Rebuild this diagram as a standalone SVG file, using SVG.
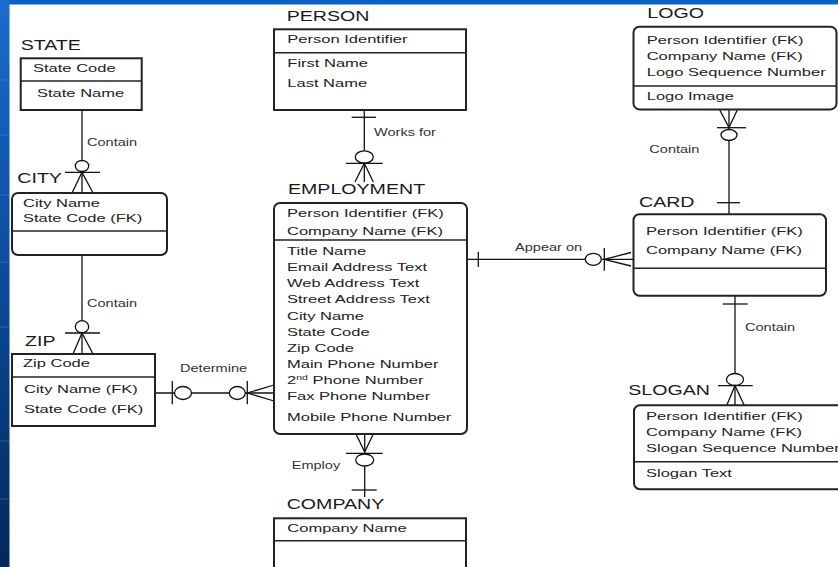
<svg xmlns="http://www.w3.org/2000/svg" width="838" height="567" viewBox="0 0 838 567">
  <defs>
    <linearGradient id="sideBand" x1="0" y1="0" x2="0" y2="1">
      <stop offset="0" stop-color="#1a6ccc"/>
      <stop offset="0.5" stop-color="#0d4a98"/>
      <stop offset="1" stop-color="#03285a"/>
    </linearGradient>
    <style>
      text { font-family: "Liberation Sans", Arial, sans-serif; font-size: 11.8px; fill: #222; }
      text.h { font-size: 14px; fill: #1a1a1a; }
      text.l { font-size: 10.4px; fill: #333; }
      .box { fill: #fff; stroke: #222; stroke-width: 2; }
      .div { stroke: #222; stroke-width: 1.6; }
      .c { stroke: #111; stroke-width: 1.3; fill: none; }
      .o { stroke: #111; stroke-width: 1.3; fill: #fff; }
    </style>
  </defs>

  <!-- page background and slide bands -->
  <rect x="0" y="0" width="838" height="567" fill="#fff"/>
  <rect x="0" y="0" width="838" height="4.5" fill="#0a62c4"/>
  <rect x="0" y="0" width="9.5" height="567" fill="url(#sideBand)"/>
  <g stroke="#5f93d6" stroke-width="0.8" opacity="0.5">
    <line x1="0" y1="80" x2="9.5" y2="80"/>
    <line x1="0" y1="135" x2="9.5" y2="135"/>
    <line x1="0" y1="195" x2="9.5" y2="195"/>
    <line x1="0" y1="262" x2="9.5" y2="262"/>
    <line x1="0" y1="327" x2="9.5" y2="327"/>
    <line x1="0" y1="441" x2="9.5" y2="441"/>
    <line x1="0" y1="499" x2="9.5" y2="499"/>
  </g>

  <!-- relationships -->
  <g id="connectors">
    <!-- STATE contains CITY -->
    <line class="c" x1="82" y1="110" x2="82" y2="193"/>
    <ellipse class="o" cx="82" cy="166" rx="6.7" ry="5.5"/>
    <line class="c" x1="65" y1="172.3" x2="100" y2="172.3"/>
    <path class="c" d="M72,193 L82,172.3 L93,193"/>
    <text class="l" transform="translate(87,145.5) scale(1.4,1)">Contain</text>

    <!-- CITY contains ZIP -->
    <line class="c" x1="82" y1="255" x2="82" y2="354"/>
    <ellipse class="o" cx="82" cy="326.7" rx="6.7" ry="6"/>
    <line class="c" x1="65" y1="333" x2="100" y2="333"/>
    <path class="c" d="M73,354 L82,333 L93,354"/>
    <text class="l" transform="translate(87,306.7) scale(1.4,1)">Contain</text>

    <!-- ZIP determines EMPLOYMENT -->
    <line class="c" x1="155" y1="393" x2="274" y2="393"/>
    <line class="c" x1="172.3" y1="381" x2="172.3" y2="404.3"/>
    <ellipse class="o" cx="183" cy="393" rx="8.5" ry="6.5"/>
    <ellipse class="o" cx="237.3" cy="393" rx="8" ry="6.5"/>
    <line class="c" x1="247.3" y1="381" x2="247.3" y2="404.3"/>
    <path class="c" d="M274,385 L247.3,393 L274,401"/>
    <text class="l" transform="translate(180,372) scale(1.4,1)">Determine</text>

    <!-- PERSON works for EMPLOYMENT -->
    <line class="c" x1="364.3" y1="110" x2="364.3" y2="182"/>
    <line class="c" x1="351.7" y1="117.3" x2="376" y2="117.3"/>
    <ellipse class="o" cx="364.3" cy="157" rx="9" ry="6.2"/>
    <line class="c" x1="346" y1="163.3" x2="382.7" y2="163.3"/>
    <path class="c" d="M355,182 L364.3,163.3 L373.3,182"/>
    <text class="l" transform="translate(374,136) scale(1.4,1)">Works for</text>

    <!-- EMPLOYMENT appears on CARD -->
    <line class="c" x1="467" y1="259.3" x2="633" y2="259.3"/>
    <line class="c" x1="478.3" y1="251.7" x2="478.3" y2="267"/>
    <ellipse class="o" cx="593.3" cy="259.3" rx="8" ry="6"/>
    <line class="c" x1="604.3" y1="248" x2="604.3" y2="270.7"/>
    <path class="c" d="M631,252.5 L604.3,259.3 L631,266"/>
    <text class="l" transform="translate(515,251) scale(1.4,1)">Appear on</text>

    <!-- LOGO contained in CARD -->
    <line class="c" x1="729" y1="109.5" x2="729" y2="214"/>
    <path class="c" d="M719.5,109.5 L729,127.5 L737.5,109.5"/>
    <line class="c" x1="717" y1="127.7" x2="746" y2="127.7"/>
    <ellipse class="o" cx="729" cy="135" rx="8" ry="5.5"/>
    <line class="c" x1="717" y1="202.7" x2="740" y2="202.7"/>
    <text class="l" transform="translate(649.3,152.7) scale(1.4,1)">Contain</text>

    <!-- CARD contains SLOGAN -->
    <line class="c" x1="735" y1="296" x2="735" y2="405.5"/>
    <line class="c" x1="722.7" y1="304" x2="747.7" y2="304"/>
    <ellipse class="o" cx="735" cy="379.5" rx="8.5" ry="6"/>
    <line class="c" x1="718" y1="385.7" x2="752.7" y2="385.7"/>
    <path class="c" d="M726.7,405.5 L735,385.7 L744.3,405.5"/>
    <text class="l" transform="translate(745,330.7) scale(1.4,1)">Contain</text>

    <!-- COMPANY employs EMPLOYMENT -->
    <line class="c" x1="364.7" y1="434" x2="364.7" y2="497"/>
    <path class="c" d="M356,434 L364.7,452 L373.3,434"/>
    <line class="c" x1="346" y1="453.3" x2="382.7" y2="453.3"/>
    <ellipse class="o" cx="364.7" cy="460" rx="9" ry="6"/>
    <line class="c" x1="351.7" y1="490" x2="376.7" y2="490"/>
    <text class="l" transform="translate(291.7,469) scale(1.4,1)">Employ</text>
  </g>

  <g id="state">
    <text class="h" transform="translate(20.7,50) scale(1.4,1)">STATE</text>
    <rect class="box" x="20.7" y="58.3" width="121" height="51.7"/>
    <line class="div" x1="20.7" y1="81" x2="141.7" y2="81"/>
    <text transform="translate(33,72.3) scale(1.4,1)">State Code</text>
    <text transform="translate(37,97) scale(1.4,1)">State Name</text>
  </g>

  <g id="city">
    <text class="h" transform="translate(17.3,182.7) scale(1.4,1)">CITY</text>
    <rect class="box" x="12" y="193" width="155" height="62" rx="6"/>
    <line class="div" x1="12" y1="231" x2="167" y2="231"/>
    <text transform="translate(23,207) scale(1.4,1)">City Name</text>
    <text transform="translate(23,222) scale(1.4,1)">State Code (FK)</text>
  </g>

  <g id="zip">
    <text class="h" transform="translate(25,346) scale(1.4,1)">ZIP</text>
    <rect class="box" x="12" y="354" width="143" height="72"/>
    <line class="div" x1="12" y1="377" x2="155" y2="377"/>
    <text transform="translate(23,367) scale(1.4,1)">Zip Code</text>
    <text transform="translate(24,393) scale(1.4,1)">City Name (FK)</text>
    <text transform="translate(24,413) scale(1.4,1)">State Code (FK)</text>
  </g>

  <g id="person">
    <text class="h" transform="translate(286.7,20.7) scale(1.4,1)">PERSON</text>
    <rect class="box" x="274" y="29.3" width="192" height="80.7"/>
    <line class="div" x1="274" y1="52.7" x2="466" y2="52.7"/>
    <text transform="translate(287.3,43.3) scale(1.4,1)">Person Identifier</text>
    <text transform="translate(287.3,66.7) scale(1.4,1)">First Name</text>
    <text transform="translate(287.3,87.3) scale(1.4,1)">Last Name</text>
  </g>

  <g id="employment">
    <text class="h" transform="translate(288,194) scale(1.4,1)">EMPLOYMENT</text>
    <rect class="box" x="274" y="203" width="193" height="231" rx="6"/>
    <line class="div" x1="274" y1="240" x2="467" y2="240"/>
    <text transform="translate(287,217) scale(1.4,1)">Person Identifier (FK)</text>
    <text transform="translate(287,235) scale(1.4,1)">Company Name (FK)</text>
    <text transform="translate(287,255) scale(1.4,1)">Title Name</text>
    <text transform="translate(287,271) scale(1.4,1)">Email Address Text</text>
    <text transform="translate(287,287) scale(1.4,1)">Web Address Text</text>
    <text transform="translate(287,303) scale(1.4,1)">Street Address Text</text>
    <text transform="translate(287,319.5) scale(1.4,1)">City Name</text>
    <text transform="translate(287,336) scale(1.4,1)">State Code</text>
    <text transform="translate(287,352) scale(1.4,1)">Zip Code</text>
    <text transform="translate(287,368) scale(1.4,1)">Main Phone Number</text>
    <text transform="translate(287,384) scale(1.4,1)">2<tspan font-size="7.5" dy="-4.5">nd</tspan><tspan dy="4.5"> Phone Number</tspan></text>
    <text transform="translate(287,400) scale(1.4,1)">Fax Phone Number</text>
    <text transform="translate(287,421) scale(1.4,1)">Mobile Phone Number</text>
  </g>

  <g id="company">
    <text class="h" transform="translate(286.7,509.3) scale(1.4,1)">COMPANY</text>
    <rect class="box" x="274" y="518.3" width="192" height="70"/>
    <line class="div" x1="274" y1="540.7" x2="466" y2="540.7"/>
    <text transform="translate(287.3,531.7) scale(1.4,1)">Company Name</text>
  </g>

  <g id="logo">
    <text class="h" transform="translate(647.3,18.3) scale(1.4,1)">LOGO</text>
    <rect class="box" x="633.5" y="26.7" width="203" height="82.7" rx="6"/>
    <line class="div" x1="633.5" y1="86" x2="836.5" y2="86"/>
    <text transform="translate(646.7,44) scale(1.4,1)">Person Identifier (FK)</text>
    <text transform="translate(646.7,60) scale(1.4,1)">Company Name (FK)</text>
    <text transform="translate(646.7,76) scale(1.4,1)">Logo Sequence Number</text>
    <text transform="translate(646.7,100) scale(1.4,1)">Logo Image</text>
  </g>

  <g id="card">
    <text class="h" transform="translate(639,206.7) scale(1.4,1)">CARD</text>
    <rect class="box" x="633.5" y="214.3" width="192.5" height="81.4" rx="6"/>
    <line class="div" x1="633.5" y1="268.3" x2="826" y2="268.3"/>
    <text transform="translate(646,235) scale(1.4,1)">Person Identifier (FK)</text>
    <text transform="translate(646,254) scale(1.4,1)">Company Name (FK)</text>
  </g>

  <g id="slogan">
    <text class="h" transform="translate(628.3,395) scale(1.4,1)">SLOGAN</text>
    <rect class="box" x="634" y="405.3" width="230" height="84" rx="6"/>
    <line class="div" x1="634" y1="461.7" x2="864" y2="461.7"/>
    <text transform="translate(646,420) scale(1.4,1)">Person Identifier (FK)</text>
    <text transform="translate(646,436) scale(1.4,1)">Company Name (FK)</text>
    <text transform="translate(646,451.7) scale(1.4,1)">Slogan Sequence Number</text>
    <text transform="translate(646,476.7) scale(1.4,1)">Slogan Text</text>
  </g>
</svg>
